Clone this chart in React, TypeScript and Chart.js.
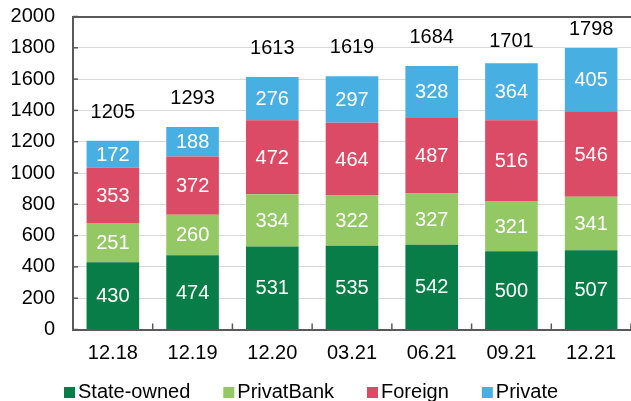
import React, { useEffect, useRef } from 'react';
import { Chart, registerables } from 'chart.js';

Chart.register(...registerables);

const categories = ['12.18', '12.19', '12.20', '03.21', '06.21', '09.21', '12.21'];
const stateOwned = [430, 474, 531, 535, 542, 500, 507];
const privatBank = [251, 260, 334, 322, 327, 321, 341];
const foreign = [353, 372, 472, 464, 487, 516, 546];
const privateBanks = [172, 188, 276, 297, 328, 364, 405];
const totals = [1205, 1293, 1613, 1619, 1684, 1701, 1798];
const seriesNames = ['State-owned', 'PrivatBank', 'Foreign', 'Private'];
const yMin = 0;
const yMax = 2000;
const yStep = 200;

const colors = ['#087d47', '#93c864', '#db4b66', '#48afe3'];
const totalLift = [28.5, 28.5, 28.5, 28.5, 28.5, 22, 18.5];
const FONT = 'Arial, "Liberation Sans", sans-serif';
const FS = 20;
const AXIS = '#595959';

const labelsPlugin = {
  id: 'labelsPlugin',
  afterDatasetsDraw(chart: any) {
    const ctx = chart.ctx;
    ctx.save();
    ctx.font = `${FS}px ${FONT}`;
    ctx.textAlign = 'center';
    ctx.textBaseline = 'middle';
    chart.data.datasets.forEach((ds: any, di: number) => {
      const meta = chart.getDatasetMeta(di);
      meta.data.forEach((bar: any, i: number) => {
        const cy = (bar.y + bar.base) / 2;
        ctx.fillStyle = '#ffffff';
        ctx.fillText(String(ds.data[i]), bar.x, cy + 1);
      });
    });
    const last = chart.getDatasetMeta(chart.data.datasets.length - 1);
    last.data.forEach((bar: any, i: number) => {
      ctx.fillStyle = '#000000';
      ctx.fillText(String(totals[i]), bar.x, bar.y - totalLift[i]);
    });
    ctx.restore();
  },
  afterDraw(chart: any) {
    const ctx = chart.ctx;
    const area = chart.chartArea;
    const y = chart.scales.y;
    ctx.save();
    ctx.strokeStyle = AXIS;
    ctx.lineWidth = 1.5;
    y.ticks.forEach((t: any) => {
      const py = y.getPixelForValue(t.value);
      ctx.beginPath();
      ctx.moveTo(area.left, py);
      ctx.lineTo(area.left + 5, py);
      ctx.stroke();
    });
    const n = categories.length;
    for (let k = 1; k <= n; k++) {
      const px = area.left + ((area.right - area.left) * k) / n;
      ctx.beginPath();
      ctx.moveTo(px, area.bottom);
      ctx.lineTo(px, area.bottom - 6);
      ctx.stroke();
    }
    // legend
    ctx.font = `${FS}px ${FONT}`;
    ctx.textAlign = 'left';
    ctx.textBaseline = 'alphabetic';
    let lx = 64;
    seriesNames.forEach((name, i) => {
      ctx.fillStyle = colors[i];
      ctx.fillRect(lx, 387, 11, 11);
      ctx.fillStyle = '#000000';
      ctx.fillText(name, lx + 14, 398);
      lx += 14 + ctx.measureText(name).width + 33;
    });
    ctx.restore();
  },
};

export default function App() {
  const ref = useRef<HTMLCanvasElement>(null);
  useEffect(() => {
    if (!ref.current) return;
    const series = [stateOwned, privatBank, foreign, privateBanks];
    const chart = new Chart(ref.current, {
      type: 'bar',
      data: {
        labels: categories,
        datasets: series.map((d, i) => ({
          label: seriesNames[i],
          data: d,
          backgroundColor: colors[i],
          borderWidth: 0,
          barPercentage: 0.66,
          categoryPercentage: 1,
        })),
      },
      options: {
        responsive: false,
        animation: false,
        layout: { padding: { top: 16.5, left: 0, right: 0, bottom: 0 } },
        plugins: {
          legend: { display: false },
          tooltip: { enabled: false },
        },
        scales: {
          x: {
            stacked: true,
            grid: { display: false, drawTicks: false },
            border: { display: true, color: AXIS, width: 2 },
            ticks: {
              color: '#000000',
              font: { family: FONT, size: FS },
              padding: 12,
              maxRotation: 0,
            },
            afterFit: (s: any) => {
              s.height = 71.5;
              s.paddingLeft = 0;
              s.paddingRight = 0;
            },
          },
          y: {
            stacked: true,
            min: yMin,
            max: yMax,
            ticks: {
              stepSize: yStep,
              color: '#000000',
              font: { family: FONT, size: FS },
              padding: 18,
              callback: (v: any) => String(v),
            },
            grid: {
              drawTicks: false,
              color: (c: any) => (c.tick && c.tick.value === yMax ? AXIS : '#d9d9d9'),
              lineWidth: (c: any) => (c.tick && c.tick.value === yMax ? 2 : 1),
            },
            border: { display: true, color: AXIS, width: 2 },
            afterFit: (s: any) => {
              s.width = 73;
              s.paddingTop = 0;
              s.paddingBottom = 0;
            },
          },
        },
      },
      plugins: [labelsPlugin],
    });
    return () => chart.destroy();
  }, []);
  return (
    <div style={{ position: 'fixed', left: 0, top: 0, width: 631, height: 401, background: '#fff' }}>
      <canvas ref={ref} width={631} height={401} />
    </div>
  );
}
